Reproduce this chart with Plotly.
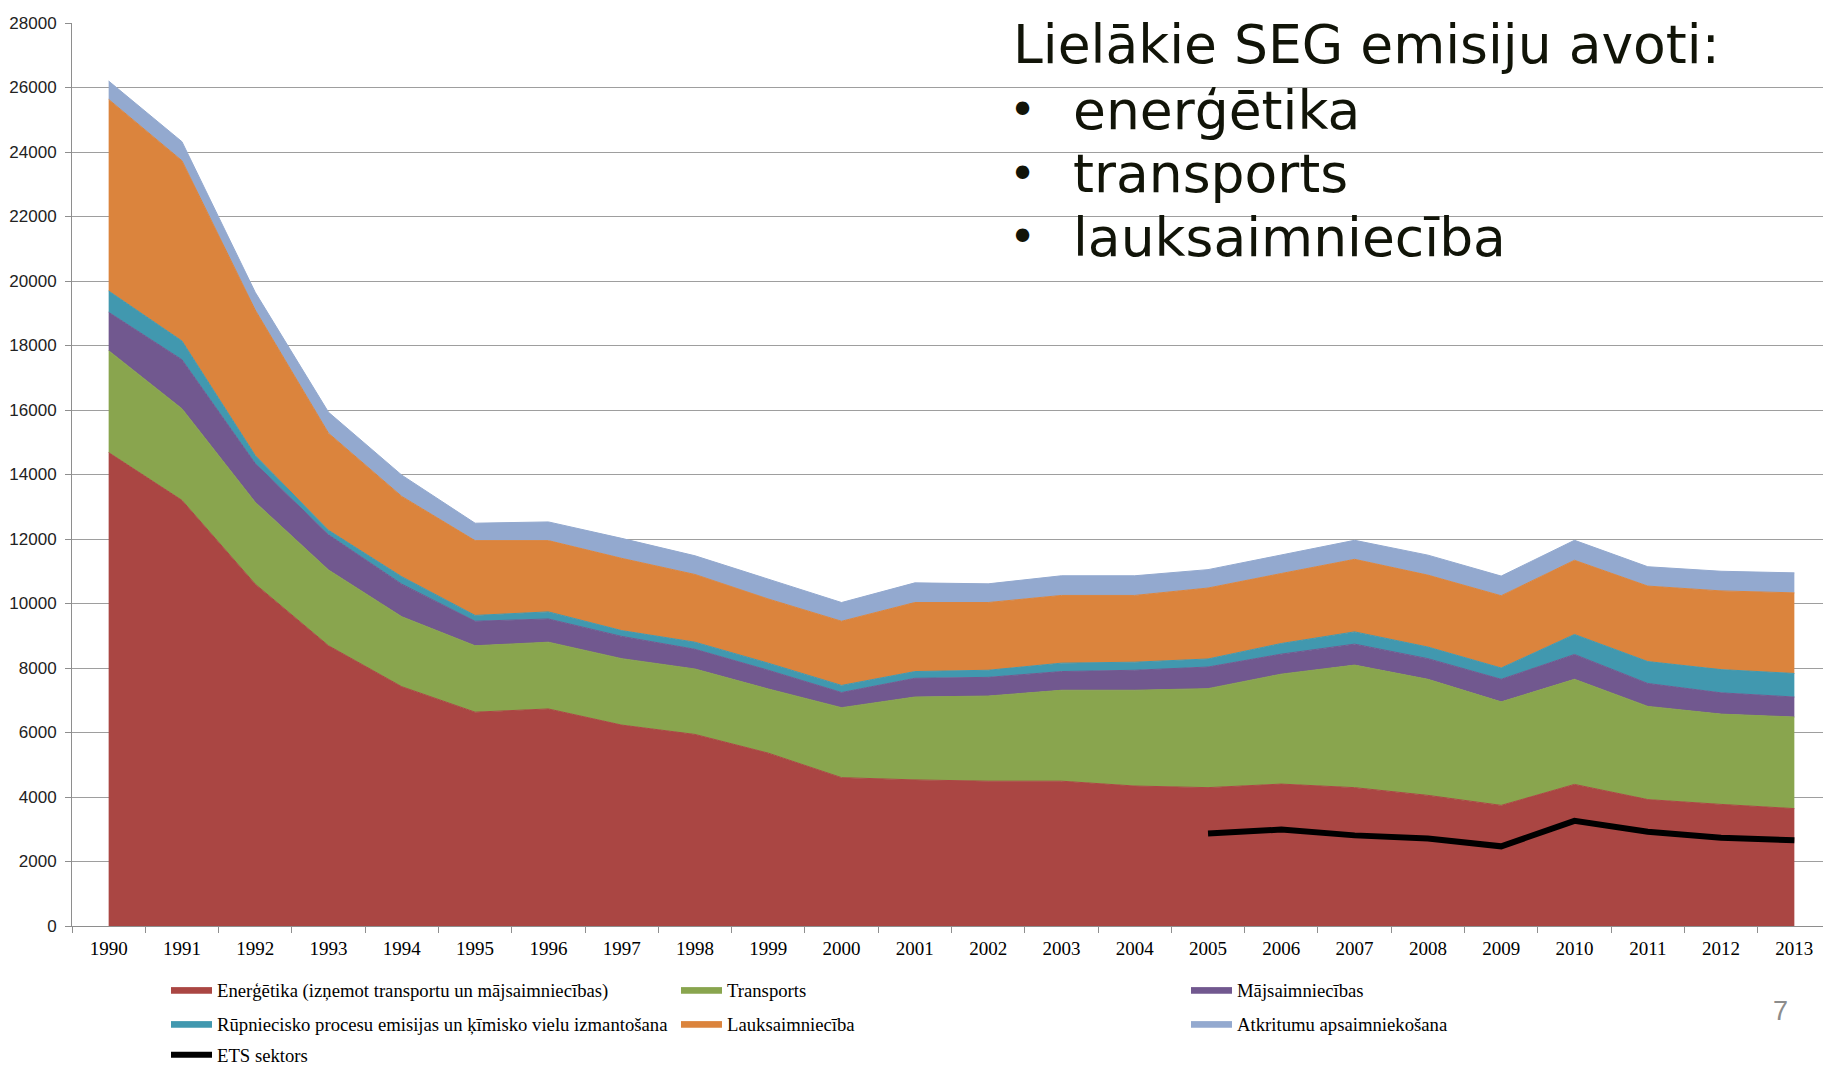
import plotly.graph_objects as go

years = [str(y) for y in range(1990, 2014)]

energetika = [14680, 13200, 10600, 8690, 7420, 6630, 6730, 6230, 5940, 5360, 4600, 4530,
              4490, 4490, 4340, 4290, 4400, 4290, 4050, 3740, 4390, 3920, 3770, 3640]
transports = [3160, 2840, 2540, 2350, 2170, 2060, 2070, 2060, 2030, 1990, 2170, 2570,
              2640, 2820, 2970, 3070, 3410, 3800, 3600, 3210, 3260, 2890, 2800, 2840]
majsaimniecibas = [1190, 1520, 1200, 1090, 1010, 760, 720, 690, 610, 580, 470, 580,
                   580, 580, 620, 670, 620, 650, 640, 700, 770, 710, 660, 620]
rupniecisko = [660, 580, 250, 140, 230, 180, 220, 180, 220, 220, 220, 210,
               220, 260, 250, 250, 330, 380, 360, 350, 620, 680, 720, 730]
lauksaimnieciba = [5940, 5590, 4510, 3010, 2490, 2320, 2210, 2240, 2100, 1990, 1990, 2140,
                   2100, 2100, 2070, 2200, 2170, 2250, 2230, 2240, 2300, 2340, 2440, 2500]
atkritumu = [570, 590, 550, 650, 660, 540, 580, 620, 580, 610, 580, 610,
             580, 610, 610, 570, 570, 590, 620, 610, 620, 600, 610, 620]

ets_years = [str(y) for y in range(2005, 2014)]
ets_sektors = [2870, 2990, 2810, 2710, 2470, 3260, 2920, 2740, 2660]

series = [
    ("Enerģētika (izņemot transportu un mājsaimniecības)", energetika, "#AA4643", "legend"),
    ("Transports", transports, "#89A54E", "legend"),
    ("Mājsaimniecības", majsaimniecibas, "#71588F", "legend"),
    ("Rūpniecisko procesu emisijas un ķīmisko vielu izmantošana", rupniecisko, "#4198AF", "legend2"),
    ("Lauksaimniecība", lauksaimnieciba, "#DB843D", "legend2"),
    ("Atkritumu apsaimniekošana", atkritumu, "#93A9CF", "legend2"),
]

title_line = "Lielākie SEG emisiju avoti:"
bullet_items = ["enerģētika", "transports", "lauksaimniecība"]

fig = go.Figure()
for name, vals, col, lg in series:
    fig.add_trace(go.Scatter(
        x=years, y=vals, name=name, mode="lines", stackgroup="one",
        line=dict(color=col, width=1), fillcolor=col, legend=lg,
        hoverinfo="skip",
    ))

fig.add_trace(go.Scatter(
    x=ets_years, y=ets_sektors, name="ETS sektors", mode="lines",
    line=dict(color="black", width=6), legend="legend3", hoverinfo="skip",
))

# The page body adds an 8px offset; compensate so the plot lands where intended.
OFF = 8
W, H = 1831 - OFF, 1067 - OFF
PLOT_L, PLOT_T, PLOT_B = 72, 23, 926  # page coordinates
ML, MT, MR = PLOT_L - OFF, PLOT_T - OFF, 0
MB = (H + OFF) - PLOT_B
PW = 1831 - PLOT_L
PH = PLOT_B - PLOT_T


def px(x):
    return (x - PLOT_L) / PW


def py(y):
    return (PLOT_B - y) / PH


ITEMW = 41
TEXTGAP = ITEMW + 10
legend_font = dict(family="Liberation Serif", size=18.7, color="black")
common_legend = dict(orientation="h", xanchor="left", yanchor="middle",
                     x=px(217 - TEXTGAP), entrywidth=510 - TEXTGAP - 5,
                     entrywidthmode="pixels", itemwidth=ITEMW,
                     traceorder="normal", font=legend_font,
                     bgcolor="rgba(0,0,0,0)", itemclick=False, itemdoubleclick=False)

txt_font = dict(family="DejaVu Sans", size=53.5, color="#111408")
annotations = [dict(x=px(1011), y=py(44), xref="paper", yref="paper", text=title_line,
                    showarrow=False, xanchor="left", yanchor="middle", font=txt_font)]
for i, item in enumerate(bullet_items):
    yc = 47 + 63.5 * (i + 1)
    annotations.append(dict(x=px(1007), y=py(yc), xref="paper", yref="paper", text="•",
                            showarrow=False, xanchor="left", yanchor="middle",
                            font=dict(family="DejaVu Sans", size=46, color="#111408")))
    annotations.append(dict(x=px(1071), y=py(yc), xref="paper", yref="paper", text=item,
                            showarrow=False, xanchor="left", yanchor="middle", font=txt_font))
annotations.append(dict(x=px(1780), y=py(1011), xref="paper", yref="paper", text="7",
                        showarrow=False, xanchor="center", yanchor="middle",
                        font=dict(family="Liberation Sans", size=27, color="#8C8C8C")))

fig.update_layout(
    width=W, height=H,
    margin=dict(l=ML, r=MR, t=MT, b=MB, autoexpand=False),
    paper_bgcolor="white", plot_bgcolor="white",
    showlegend=True,
    legend=dict(common_legend, y=py(990)),
    legend2=dict(common_legend, y=py(1024)),
    legend3=dict(common_legend, y=py(1055)),
    annotations=annotations,
    hovermode=False,
)

fig.update_xaxes(
    type="category", range=[-0.5, 23.5], tickson="boundaries",
    ticks="outside", ticklen=6, tickcolor="#8E8E8E", tickwidth=1,
    showline=True, linecolor="#8E8E8E", linewidth=1, showgrid=False,
    ticklabelstandoff=5,
    tickfont=dict(family="Liberation Serif", size=19, color="black"),
)
fig.update_yaxes(
    range=[0, 28000], dtick=2000, tickformat="d",
    ticks="outside", ticklen=6, tickcolor="#8E8E8E", tickwidth=1,
    showline=True, linecolor="#8E8E8E", linewidth=1,
    showgrid=True, gridcolor="#9E9E9E", gridwidth=1, zeroline=False,
    ticklabelstandoff=5,
    tickfont=dict(family="Liberation Sans", size=17, color="#222222"),
)

fig.write_html("out.html")
